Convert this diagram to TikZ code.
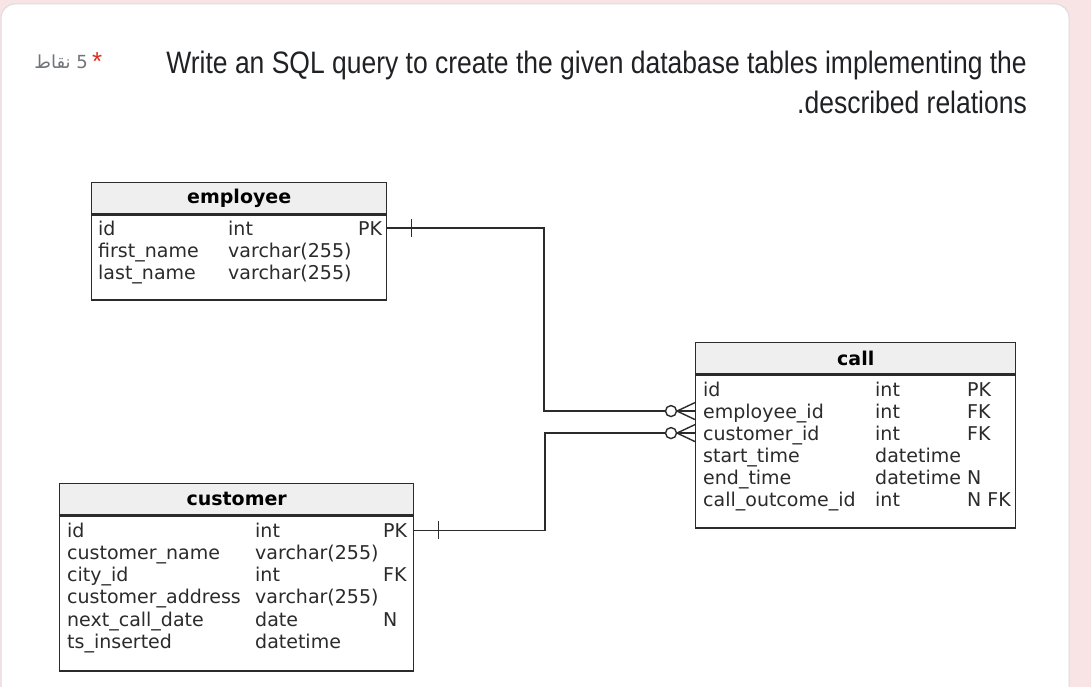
\documentclass[tikz,border=0pt]{standalone}
\usepackage{fontspec}
\setmainfont{Liberation Sans}
\newfontfamily\tablefont{DejaVu Sans}
\newfontfamily\arabicfont[Script=Arabic]{DejaVu Sans}
\TeXXeTstate=1
\usetikzlibrary{positioning}

\definecolor{pagebg}{HTML}{F8E4E5}
\definecolor{cardline}{HTML}{DADCE0}
\definecolor{ink}{HTML}{202124}
\definecolor{erline}{HTML}{2B2B2B}
\definecolor{headfill}{HTML}{EFEFEF}
\definecolor{pointgray}{HTML}{70757A}
\definecolor{starred}{HTML}{D93025}

\tikzset{
  zeromany/.pic={
    \draw[rel, fill=white] (-24,0) circle (5.5);
    \draw[rel] (-18,0) -- (0,-8.5) (-18,0) -- (0,0) (-18,0) -- (0,8.5);
  },
  onebar/.pic={
    \draw[rel] (0,-9) -- (0,9);
  }
}

\begin{document}
\begin{tikzpicture}[x=1pt, y=-1pt,
  rel/.style={draw=erline, line width=1.4pt},
  tbl/.style={draw=erline, line width=1.4pt, fill=white, anchor=north west, inner sep=0pt},
  tblhead/.style={tbl, fill=headfill},
  title/.style={font=\tablefont\bfseries\fontsize{19}{20}\selectfont, text=black},
  cell/.style={font=\tablefont\fontsize{19}{20}\selectfont, text=erline, anchor=base west, inner sep=0pt},
  question/.style={font=\fontsize{31}{31}\selectfont, text=ink, anchor=base east, inner sep=0pt}
]

% Page and card
\fill[pagebg] (0,0) rectangle (1091,687);
\useasboundingbox (0,0) rectangle (1091,687);
\begin{scope}
  \clip (0,0) rectangle (1091,687);
  \draw[cardline, fill=white, line width=1pt, rounded corners=14pt] (1,4) rectangle (1069,720);
\end{scope}

% Question
\node[font=\arabicfont\fontsize{18}{18}\selectfont, text=pointgray, anchor=east, inner sep=0pt] (points) at (88,62) {\beginR 5 نقاط\endR};
\node[font=\fontsize{26}{26}\selectfont, text=starred, right=4pt of points.east, anchor=west, inner sep=0pt] (star) {*};
\node[question] (q1) at (1027,74) {\scalebox{0.854}[1]{Write an SQL query to create the given database tables implementing the}};
\node[question] (q2) at (1027,114) {\scalebox{0.854}[1]{.described relations}};

% employee
\node[tblhead, minimum width=295, minimum height=31] (emp) at (91,182) {};
\node[tbl, minimum width=295, minimum height=85] (emp-body) at (emp.south west) {};
\node[title] (emp-title) at (emp.center) {employee};
\foreach \n/\t/\k [count=\i] in {id/int/PK, first\_name/varchar(255)/, last\_name/varchar(255)/} {
  \node[cell] (emp-n\i) at (98, 213+22*\i) {\n};
  \node[cell] (emp-t\i) at (228, 213+22*\i) {\t};
  \node[cell] (emp-k\i) at (358, 213+22*\i) {\k};
}

% call
\node[tblhead, minimum width=320, minimum height=31] (call) at (695,342) {};
\node[tbl, minimum width=320, minimum height=153] (call-body) at (call.south west) {};
\node[title] (call-title) at (call.center) {call};
\foreach \n/\t/\k [count=\i] in {id/int/PK, employee\_id/int/FK, customer\_id/int/FK,
    start\_time/datetime/, end\_time/datetime/N, call\_outcome\_id/int/N FK} {
  \node[cell] (call-n\i) at (703, 374+22*\i) {\n};
  \node[cell] (call-t\i) at (875, 374+22*\i) {\t};
  \node[cell] (call-k\i) at (967, 374+22*\i) {\k};
}

% customer
\node[tblhead, minimum width=354, minimum height=31] (cust) at (59,483) {};
\node[tbl, minimum width=354, minimum height=155] (cust-body) at (cust.south west) {};
\node[title] (cust-title) at (cust.center) {customer};
\foreach \n/\t/\k [count=\i] in {id/int/PK, customer\_name/varchar(255)/, city\_id/int/FK,
    customer\_address/varchar(255)/, next\_call\_date/date/N, ts\_inserted/datetime/} {
  \node[cell] (cust-n\i) at (67, 515+22.2*\i) {\n};
  \node[cell] (cust-t\i) at (255, 515+22.2*\i) {\t};
  \node[cell] (cust-k\i) at (383, 515+22.2*\i) {\k};
}

% Relations
\coordinate (emp-bend) at (544,0);
\coordinate (cust-bend) at (545,0);
\draw[rel] (emp-body.east |- emp-k1) -| (emp-bend |- call-k2) -- (call-body.west |- call-k2);
\draw[rel] (cust-body.east |- cust-k1) -| (cust-bend |- call-k3) -- (call-body.west |- call-k3);
\pic[xshift=24pt] at (emp-body.east |- emp-k1) {onebar};
\pic[xshift=24pt] at (cust-body.east |- cust-k1) {onebar};
\pic at (call-body.west |- call-k2) {zeromany};
\pic at (call-body.west |- call-k3) {zeromany};

\end{tikzpicture}
\end{document}
